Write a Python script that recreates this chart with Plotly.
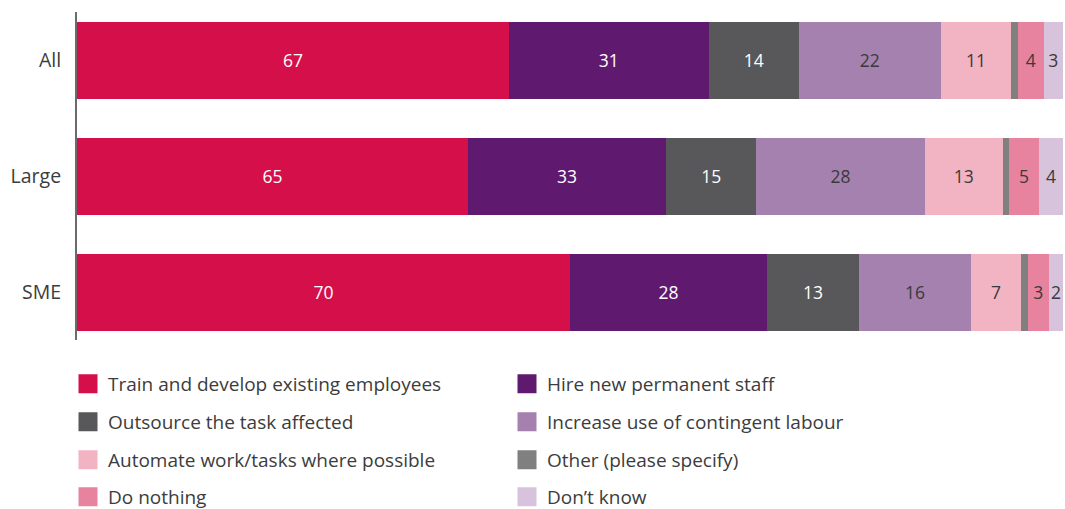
import plotly.graph_objects as go

categories = ["All", "Large", "SME"]
series_names = [
    "Train and develop existing employees",
    "Hire new permanent staff",
    "Outsource the task affected",
    "Increase use of contingent labour",
    "Automate work/tasks where possible",
    "Other (please specify)",
    "Do nothing",
    "Don\u2019t know",
]
train = [67, 65, 70]
hire = [31, 33, 28]
outsource = [14, 15, 13]
contingent = [22, 28, 16]
automate = [11, 13, 7]
other = [1, 1, 1]
nothing = [4, 5, 3]
dontknow = [3, 4, 2]
series_values = [train, hire, outsource, contingent, automate, other, nothing, dontknow]
colors = ["#D50F4A", "#5F1A6F", "#58585A", "#A481AF", "#F2B3C3", "#808080", "#E8839F", "#D7C3DB"]
text_colors = ["white", "white", "white", "#3A3A3A", "#3A3A3A", "#3A3A3A", "#3A3A3A", "#3A3A3A"]
show_text = [True, True, True, True, True, False, True, True]

FONT = "Open Sans"
ypos = [0, 1, 2]

fig = go.Figure()
for name, vals, col, tcol, st in zip(series_names, series_values, colors, text_colors, show_text):
    fig.add_trace(go.Bar(
        y=ypos, x=vals, orientation="h", name=name,
        marker=dict(color=col, line=dict(width=0)),
        width=0.664,
        text=[str(v) for v in vals] if st else None,
        texttemplate="%{text}" if st else None,
        textposition="inside" if st else "none",
        insidetextanchor="middle",
        textangle=0,
        constraintext="none",
        textfont=dict(color=tcol, size=17.5, family=FONT),
        showlegend=False,
        hoverinfo="skip",
    ))

# legend rows (2 entries per row), drawn as separate legends
legend_names = ["legend", "legend2", "legend3", "legend4"]
row_centers_px = [384, 422, 460, 497]
for i, (name, col) in enumerate(zip(series_names, colors)):
    fig.add_trace(go.Scatter(
        x=[None], y=[None], mode="markers", name=name,
        marker=dict(symbol="square", size=16, color=col, line=dict(width=3, color=col)),
        legend=legend_names[i // 2],
        showlegend=True,
    ))

plot_top, plot_bottom = 12, 340
plot_h = plot_bottom - plot_top
layout_legends = {}
for j, ln in enumerate(legend_names):
    layout_legends[ln] = dict(
        orientation="h",
        x=(68 - 77) / 986, xanchor="left",
        y=(plot_bottom - row_centers_px[j]) / plot_h, yanchor="middle",
        entrywidth=394, entrywidthmode="pixels",
        font=dict(family=FONT, size=19, color="#3C3C3C"),
        bgcolor="rgba(0,0,0,0)",
        itemclick=False, itemdoubleclick=False,
        traceorder="normal",
    )

fig.update_layout(
    barmode="stack",
    barnorm="percent",
    width=1065, height=509,
    margin=dict(l=77, r=2, t=plot_top, b=509 - plot_bottom, autoexpand=False),
    plot_bgcolor="white", paper_bgcolor="white",
    font=dict(family=FONT, size=18, color="#3C3C3C"),
    xaxis=dict(range=[0, 100], visible=False, fixedrange=True),
    yaxis=dict(
        range=[2.41, -0.418], tickmode="array", tickvals=ypos, ticktext=categories,
        showline=True, linecolor="#6B6B6B", linewidth=2, showgrid=False, zeroline=False,
        ticks="", ticklabelstandoff=10, tickfont=dict(family=FONT, size=19.5, color="#3C3C3C"),
        fixedrange=True,
    ),
    **layout_legends,
)

fig.write_html("out.html", config={"displayModeBar": False},
               post_script="document.body.style.margin='0';")
